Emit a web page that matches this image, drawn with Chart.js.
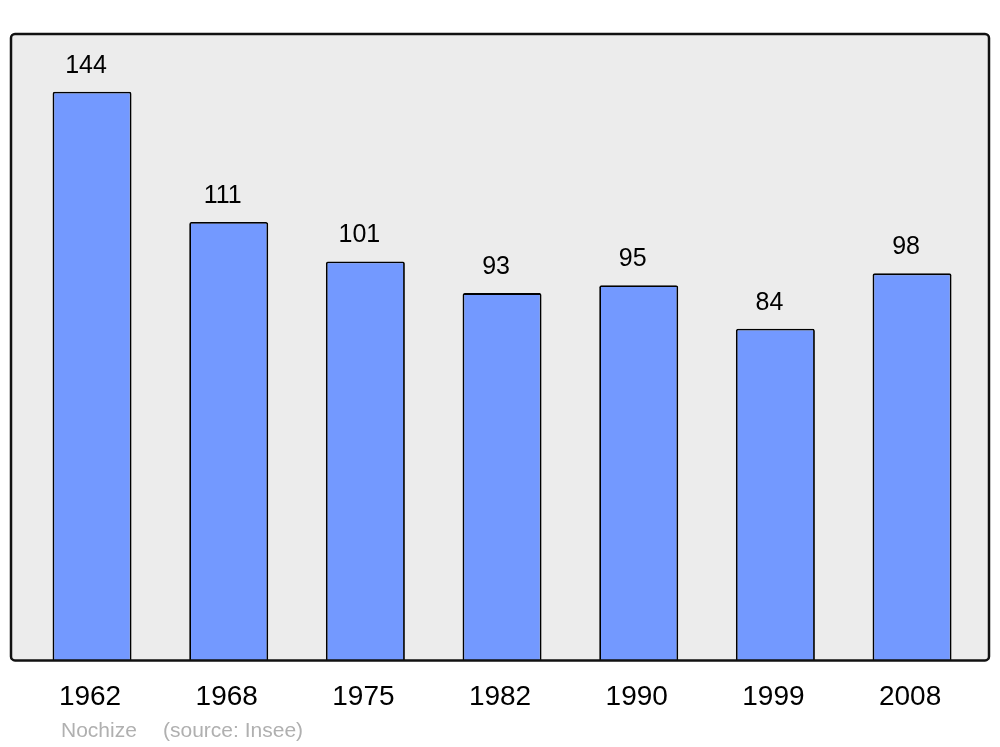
<!DOCTYPE html>
<html>
<head>
<meta charset="utf-8">
<script src="https://cdn.jsdelivr.net/npm/chart.js@4/dist/chart.umd.min.js"></script>
<style>
html,body{margin:0;padding:0;background:#fff;}
#wrap{width:1000px;height:747px;position:relative;}
</style>
</head>
<body>
<div id="wrap"><canvas id="c" width="1000" height="747"></canvas></div>
<script>
const years = ['1962','1968','1975','1982','1990','1999','2008'];
const population = [144, 111, 101, 93, 95, 84, 98];
const footerName = 'Nochize';
const footerSource = '(source: Insee)';

const FONT = '"Liberation Sans", Arial, sans-serif';

const framePlugin = {
  id: 'frame',
  beforeDatasetsDraw(chart) {
    const a = chart.chartArea, ctx = chart.ctx;
    ctx.save();
    ctx.beginPath();
    ctx.roundRect(a.left, a.top, a.right - a.left, a.bottom - a.top, 4);
    ctx.fillStyle = '#ececec';
    ctx.fill();
    ctx.restore();
  },
  afterDatasetsDraw(chart) {
    const a = chart.chartArea, ctx = chart.ctx;
    ctx.save();
    ctx.beginPath();
    ctx.roundRect(a.left, a.top, a.right - a.left, a.bottom - a.top, 4);
    ctx.lineWidth = 2.5;
    ctx.strokeStyle = '#111';
    ctx.stroke();
    // value labels
    const meta = chart.getDatasetMeta(0);
    ctx.fillStyle = '#000';
    ctx.font = '25px ' + FONT;
    ctx.textAlign = 'center';
    ctx.textBaseline = 'middle';
    meta.data.forEach((bar, i) => {
      ctx.fillText(String(population[i]), bar.x - 6, bar.y - 26);
    });
    // footer
    ctx.fillStyle = '#b0b0b0';
    ctx.font = '21px ' + FONT;
    ctx.textAlign = 'left';
    ctx.textBaseline = 'alphabetic';
    ctx.fillText(footerName, a.left + 50, 737);
    ctx.fillText(footerSource, a.left + 152, 737);
    ctx.restore();
  }
};

new Chart(document.getElementById('c'), {
  type: 'bar',
  data: {
    datasets: [{
      data: population.map((v, i) => ({x: i, y: v})),
      backgroundColor: '#7399ff',
      borderColor: '#000',
      borderWidth: 1.8,
      borderRadius: 2,
      borderSkipped: 'bottom',
      categoryPercentage: 1,
      barPercentage: 0.578
    }]
  },
  options: {
    responsive: false,
    animation: false,
    devicePixelRatio: 1,
    layout: {padding: {top: 34, left: 11, right: 11, bottom: 13}},
    plugins: {legend: {display: false}, tooltip: {enabled: false}},
    scales: {
      x: {
        type: 'linear',
        offset: false,
        min: -0.593,
        max: 6.563,
        grid: {display: false, drawTicks: false},
        border: {display: false},
        ticks: {
          stepSize: 1,
          includeBounds: false,
          autoSkip: false,
          maxRotation: 0,
          padding: 20,
          labelOffset: -2,
          color: '#000',
          font: {family: FONT, size: 28},
          callback: (v) => Number.isInteger(v) && years[v] !== undefined ? years[v] : ''
        }
      },
      y: {
        display: false,
        min: 0,
        max: 158.6
      }
    }
  },
  plugins: [framePlugin]
});
</script>
</body>
</html>
